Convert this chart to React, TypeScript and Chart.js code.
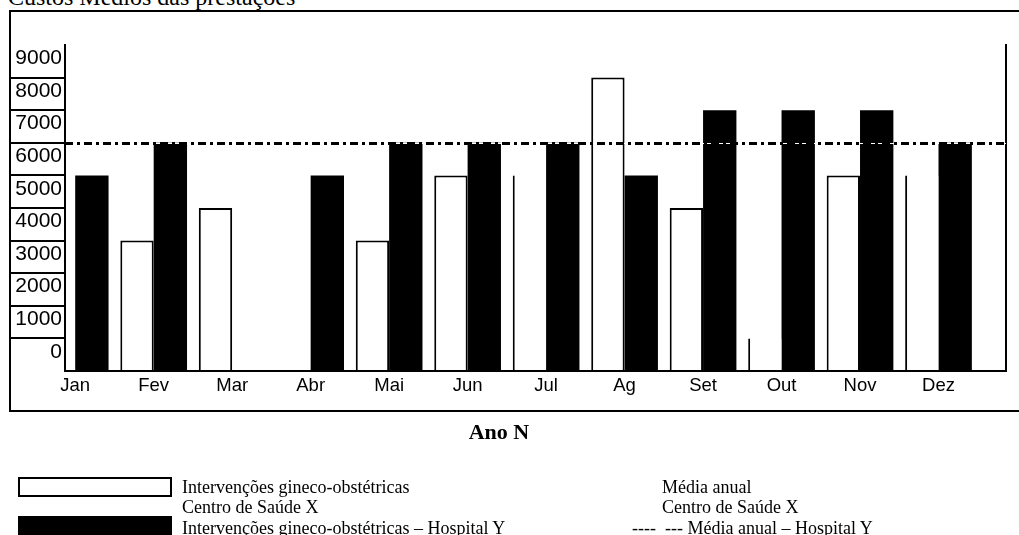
import React, { useEffect, useRef } from 'react';
import { Chart, registerables } from 'chart.js';

Chart.register(...registerables);

// ---- data ----
const months = ['Jan', 'Fev', 'Mar', 'Abr', 'Mai', 'Jun', 'Jul', 'Ag', 'Set', 'Out', 'Nov', 'Dez'];
const centroSaudeX: (number | null)[] = [null, 3000, 4000, null, 3000, 5000, 5000, 8000, 4000, 0, 5000, 5000];
const hospitalY: (number | null)[] = [5000, 6000, null, 5000, 6000, 6000, 6000, 5000, 7000, 7000, 7000, 6000];
const mediaAnualHospitalY = 6000;
const yTickLabels = [0, 1000, 2000, 3000, 4000, 5000, 6000, 7000, 8000, 9000];
const yAxisMin = -1000;
const yAxisMax = 9000;

// style only: months whose "Centro de Saúde X" bar is drawn as a single edge
const edgeOnlyMonths = ['Jul', 'Out', 'Dez'];

const SANS = "'Liberation Sans', Arial, sans-serif";
const SERIF = "'Liberation Serif', 'Times New Roman', serif";

const meanLinePlugin = {
  id: 'meanLine',
  afterDatasetsDraw(chart: any) {
    const { ctx, chartArea, scales } = chart;
    const y = Math.round(scales.y.getPixelForValue(mediaAnualHospitalY)) + 0.5;
    ctx.save();
    ctx.beginPath();
    ctx.moveTo(chartArea.left, y);
    ctx.lineTo(chartArea.right, y);
    ctx.strokeStyle = '#fff';
    ctx.lineWidth = 1;
    ctx.stroke();
    ctx.setLineDash([8, 4, 3, 4]);
    ctx.strokeStyle = '#000';
    ctx.lineWidth = 3;
    ctx.stroke();
    ctx.restore();
  },
};

export default function App() {
  const canvasRef = useRef<HTMLCanvasElement | null>(null);

  useEffect(() => {
    const canvas = canvasRef.current;
    if (!canvas) return;
    const chart = new Chart(canvas, {
      type: 'bar',
      data: {
        datasets: [
          {
            label: 'Intervenções gineco-obstétricas Centro de Saúde X',
            data: months.map((m, i) => ({ x: i, y: centroSaudeX[i] })) as any,
            backgroundColor: '#fff',
            borderColor: '#000',
            borderWidth: ((c: any) =>
              edgeOnlyMonths.includes(months[c.dataIndex])
                ? { left: 2, top: 0, right: 0, bottom: 0 }
                : { left: 2, top: 2, right: 2, bottom: 0 }) as any,
            borderSkipped: 'start',
            base: yAxisMin,
          } as any,
          {
            label: 'Intervenções gineco-obstétricas – Hospital Y',
            data: months.map((m, i) => ({ x: i, y: hospitalY[i] })) as any,
            backgroundColor: '#000',
            borderWidth: 0,
            base: yAxisMin,
          } as any,
        ],
      },
      options: {
        animation: false,
        responsive: false,
        maintainAspectRatio: false,
        layout: { padding: { left: 9, right: 13, top: 45, bottom: 134 } },
        datasets: { bar: { categoryPercentage: 0.85, barPercentage: 1 } } as any,
        plugins: {
          legend: { display: false },
          tooltip: { enabled: false },
          title: { display: false },
        },
        scales: {
          x: {
            type: 'linear',
            min: -0.13,
            max: 11.86,
            offset: false,
            afterBuildTicks: (s: any) => {
              s.ticks = months.map((_, i) => ({ value: i }));
            },
            afterFit: (s: any) => {
              s.height = 30;
            },
            ticks: {
              autoSkip: false,
              maxRotation: 0,
              minRotation: 0,
              includeBounds: false,
              padding: 3.5,
              color: '#000',
              font: { family: SANS, size: 18.5 },
              callback: (v: any) => months[v as number] ?? '',
            },
            grid: { display: true, drawOnChartArea: false, drawTicks: false },
            border: { display: true, color: '#000', width: 2 },
          } as any,
          y: {
            type: 'linear',
            position: 'left',
            min: yAxisMin,
            max: yAxisMax,
            afterBuildTicks: (s: any) => {
              s.ticks = [yAxisMin, ...yTickLabels].map((v) => ({ value: v }));
            },
            afterFit: (s: any) => {
              s.width = 56;
            },
            ticks: {
              padding: -53,
              labelOffset: 13.5,
              color: '#000',
              font: { family: SANS, size: 21 },
              callback: (v: any) => (yTickLabels.includes(v as number) ? String(v) : ''),
            },
            grid: {
              drawOnChartArea: false,
              drawTicks: true,
              tickLength: 56,
              lineWidth: 2,
              color: (c: any) =>
                c.tick && c.tick.value >= 0 && c.tick.value < yAxisMax ? '#000' : 'rgba(0,0,0,0)',
            },
            border: { display: true, color: '#000', width: 2 },
          } as any,
          y2: {
            type: 'linear',
            position: 'right',
            min: yAxisMin,
            max: yAxisMax,
            afterFit: (s: any) => {
              s.width = 0;
            },
            ticks: { display: false },
            grid: { display: true, drawOnChartArea: false, drawTicks: false },
            border: { display: true, color: '#000', width: 2 },
          } as any,
        },
      },
      plugins: [meanLinePlugin],
    });
    return () => chart.destroy();
  }, []);

  const text = (style: React.CSSProperties, content: string) => (
    <div
      style={{
        position: 'absolute',
        fontFamily: SERIF,
        fontSize: 18,
        lineHeight: '20px',
        color: '#000',
        whiteSpace: 'pre',
        ...style,
      }}
    >
      {content}
    </div>
  );

  return (
    <div
      style={{
        position: 'absolute',
        left: 0,
        top: 0,
        width: 1019,
        height: 535,
        overflow: 'hidden',
        background: '#fff',
      }}
    >
      <div
        style={{
          position: 'absolute',
          left: 9,
          top: 10,
          width: 1030,
          height: 402,
          boxSizing: 'border-box',
          border: '2px solid #000',
        }}
      />
      <div
        style={{
          position: 'absolute',
          left: 8,
          top: -15,
          fontFamily: SERIF,
          fontSize: 24,
          lineHeight: '24px',
          whiteSpace: 'pre',
          color: '#000',
        }}
      >
        Custos Médios das prestações
      </div>
      <canvas
        ref={canvasRef}
        width={1019}
        height={535}
        style={{ position: 'absolute', left: 0, top: 0, width: 1019, height: 535 }}
      />
      <div
        style={{
          position: 'absolute',
          left: 0,
          width: 998,
          top: 420,
          textAlign: 'center',
          fontFamily: SERIF,
          fontWeight: 'bold',
          fontSize: 22,
          lineHeight: '24px',
          color: '#000',
        }}
      >
        Ano N
      </div>
      <div
        style={{
          position: 'absolute',
          left: 18,
          top: 477,
          width: 154,
          height: 20,
          boxSizing: 'border-box',
          border: '2px solid #000',
          background: '#fff',
        }}
      />
      <div
        style={{
          position: 'absolute',
          left: 18,
          top: 516,
          width: 154,
          height: 20,
          background: '#000',
        }}
      />
      {text({ left: 182, top: 477 }, 'Intervenções gineco-obstétricas')}
      {text({ left: 182, top: 497 }, 'Centro de Saúde X')}
      {text({ left: 182, top: 518 }, 'Intervenções gineco-obstétricas – Hospital Y')}
      {text({ left: 662, top: 477 }, 'Média anual')}
      {text({ left: 662, top: 497 }, 'Centro de Saúde X')}
      {text({ left: 632, top: 518 }, '----  --- Média anual – Hospital Y')}
    </div>
  );
}
